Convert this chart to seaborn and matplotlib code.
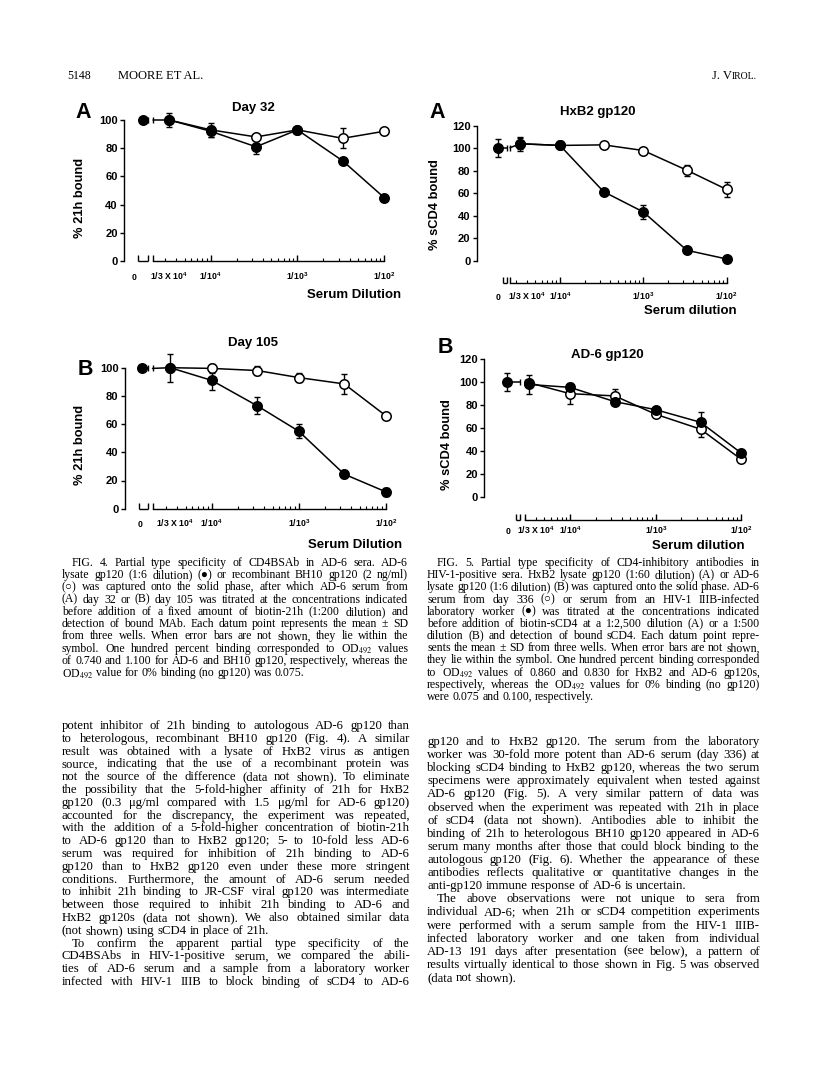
import numpy as np
import pandas as pd
import matplotlib
matplotlib.use("Agg")
import matplotlib.pyplot as plt
import matplotlib.ticker as mticker
import matplotlib.transforms as mtransforms
import seaborn as sns

W, H = 816, 1076
nan = np.nan

# serum dilutions (0 = no serum), shared by all four panels
dilutions = [0, 1 / 30000, 1 / 10000, 1 / 3000, 1 / 1000, 1 / 300, 1 / 100]
x_ticks = [1 / 30000, 1e-4, 1e-3, 1e-2]
x_ticklabels = [r"1/3 X 10$^{4}$", r"1/10$^{4}$", r"1/10$^{3}$", r"1/10$^{2}$"]
yticks_21h = [0, 20, 40, 60, 80, 100]
yticks_scd4 = [0, 20, 40, 60, 80, 100, 120]

# Fig. 4A, day 32: AD-6 lysate gp120 (filled) and BH10 gp120 (open)
day32_lysate = [100, 100, 92, 81, 93, 71, 45]
day32_lysate_sd = [0, 5, 4, 5, 0, 2, 1]
day32_bh10 = [nan, 100, 93, 88, 93, 87, 92]
day32_bh10_sd = [0, 0, 5, 0, 0, 7, 0]

# Fig. 4B, day 105
day105_lysate = [99.5, 100, 91, 73, 55, 24.5, 12]
day105_lysate_sd = [0, 10, 7, 6, 5, 3, 3]
day105_bh10 = [nan, 100, 99.5, 98, 93, 88.5, 66]
day105_bh10_sd = [0, 0, 3, 3, 3, 7, 2]

# Fig. 5A, HxB2 gp120: lab worker (filled) and AD-6 day 336 (open)
hxb2_worker = [100.5, 104, 102.5, 61.5, 43.5, 9.5, 1.8]
hxb2_worker_sd = [8, 5, 1, 1, 6, 1, 0]
hxb2_ad6 = [nan, 104, 102.5, 103, 98, 80.5, 63.5]
hxb2_ad6_sd = [0, 6, 0, 0, 0, 5, 7]

# Fig. 5B, AD-6 gp120
ad6_worker = [100, 98, 95.5, 83, 76, 65, 38]
ad6_worker_sd = [8, 8, 2, 0, 1, 9, 2]
ad6_ad6 = [nan, 99.5, 90, 88, 72, 59, 32.5]
ad6_ad6_sd = [0, 3, 9, 6, 0, 7, 0]

fig4_caption = [
    "FIG. 4. Partial type specificity of CD4BSAb in AD-6 sera. AD-6",
    "lysate gp120 (1:6 dilution) (\u25cf) or recombinant BH10 gp120 (2 ng/ml)",
    "(\u25cb) was captured onto the solid phase, after which AD-6 serum from",
    "(A) day 32 or (B) day 105 was titrated at the concentrations indicated",
    "before addition of a fixed amount of biotin-21h (1:200 dilution) and",
    "detection of bound MAb. Each datum point represents the mean \u00b1 SD",
    "from three wells. When error bars are not shown, they lie within the",
    "symbol. One hundred percent binding corresponded to OD$_{492}$ values",
    "of 0.740 and 1.100 for AD-6 and BH10 gp120, respectively, whereas the",
    "OD$_{492}$ value for 0% binding (no gp120) was 0.075.",
]
fig5_caption = [
    "FIG. 5. Partial type specificity of CD4-inhibitory antibodies in",
    "HIV-1-positive sera. HxB2 lysate gp120 (1:60 dilution) (A) or AD-6",
    "lysate gp120 (1:6 dilution) (B) was captured onto the solid phase. AD-6",
    "serum from day 336 (\u25cb) or serum from an HIV-1 IIIB-infected",
    "laboratory worker (\u25cf) was titrated at the concentrations indicated",
    "before addition of biotin-sCD4 at a 1:2,500 dilution (A) or a 1:500",
    "dilution (B) and detection of bound sCD4. Each datum point repre-",
    "sents the mean \u00b1 SD from three wells. When error bars are not shown,",
    "they lie within the symbol. One hundred percent binding corresponded",
    "to OD$_{492}$ values of 0.860 and 0.830 for HxB2 and AD-6 gp120s,",
    "respectively, whereas the OD$_{492}$ values for 0% binding (no gp120)",
    "were 0.075 and 0.100, respectively.",
]
body_left = [
    "potent inhibitor of 21h binding to autologous AD-6 gp120 than",
    "to heterologous, recombinant BH10 gp120 (Fig. 4). A similar",
    "result was obtained with a lysate of HxB2 virus as antigen",
    "source, indicating that the use of a recombinant protein was",
    "not the source of the difference (data not shown). To eliminate",
    "the possibility that the 5-fold-higher affinity of 21h for HxB2",
    "gp120 (0.3 \u03bcg/ml compared with 1.5 \u03bcg/ml for AD-6 gp120)",
    "accounted for the discrepancy, the experiment was repeated,",
    "with the addition of a 5-fold-higher concentration of biotin-21h",
    "to AD-6 gp120 than to HxB2 gp120; 5- to 10-fold less AD-6",
    "serum was required for inhibition of 21h binding to AD-6",
    "gp120 than to HxB2 gp120 even under these more stringent",
    "conditions. Furthermore, the amount of AD-6 serum needed",
    "to inhibit 21h binding to JR-CSF viral gp120 was intermediate",
    "between those required to inhibit 21h binding to AD-6 and",
    "HxB2 gp120s (data not shown). We also obtained similar data",
    "(not shown) using sCD4 in place of 21h.",
    "To confirm the apparent partial type specificity of the",
    "CD4BSAbs in HIV-1-positive serum, we compared the abili-",
    "ties of AD-6 serum and a sample from a laboratory worker",
    "infected with HIV-1 IIIB to block binding of sCD4 to AD-6",
]
body_right = [
    "gp120 and to HxB2 gp120. The serum from the laboratory",
    "worker was 30-fold more potent than AD-6 serum (day 336) at",
    "blocking sCD4 binding to HxB2 gp120, whereas the two serum",
    "specimens were approximately equivalent when tested against",
    "AD-6 gp120 (Fig. 5). A very similar pattern of data was",
    "observed when the experiment was repeated with 21h in place",
    "of sCD4 (data not shown). Antibodies able to inhibit the",
    "binding of 21h to heterologous BH10 gp120 appeared in AD-6",
    "serum many months after those that could block binding to the",
    "autologous gp120 (Fig. 6). Whether the appearance of these",
    "antibodies reflects qualitative or quantitative changes in the",
    "anti-gp120 immune response of AD-6 is uncertain.",
    "The above observations were not unique to sera from",
    "individual AD-6; when 21h or sCD4 competition experiments",
    "were performed with a serum sample from the HIV-1 IIIB-",
    "infected laboratory worker and one taken from individual",
    "AD-13 191 days after presentation (see below), a pattern of",
    "results virtually identical to those shown in Fig. 5 was observed",
    "(data not shown).",
]

SANS = ["Liberation Sans", "DejaVu Sans"]
SERIF = ["Liberation Serif", "DejaVu Serif"]

sns.set_style("ticks")
plt.rcParams.update({
    "font.family": SANS,
    "mathtext.fontset": "custom",
    "mathtext.rm": "Liberation Sans:bold",
    "mathtext.bf": "Liberation Sans:bold",
    "mathtext.it": "Liberation Sans:bold:italic",
    "axes.edgecolor": "black",
    "axes.labelcolor": "black",
    "text.color": "black",
    "xtick.color": "black",
    "ytick.color": "black",
    "axes.linewidth": 1.0,
})


def fxy(x, y):
    return x / W, 1 - y / H


panels = [
    dict(letter="A", title="Day 32", ylabel="% 21h bound", xlabel="Serum Dilution",
         filled=(day32_lysate, day32_lysate_sd), open=(day32_bh10, day32_bh10_sd),
         yticks=yticks_21h,
         lay=dict(xref=210.7, dec=86.7, yhi=(100, 120.0), ylo=(0, 261.0), ylim=(-8, 112),
                  axis_y=0, zero=-4.785, start=-4.835, b1=-4.727, b2=-4.66, zlab=-4.88,
                  lab=16, shift=0, title=(253, 108), letter=(83, 113), ylab=(80, 198),
                  xlab=(401, 295))),
    dict(letter="B", title="Day 105", ylabel="% 21h bound", xlabel="Serum Dilution",
         filled=(day105_lysate, day105_lysate_sd), open=(day105_bh10, day105_bh10_sd),
         yticks=yticks_21h,
         lay=dict(xref=211.7, dec=87.0, yhi=(100, 367.7), ylo=(0, 508.7), ylim=(-8, 112),
                  axis_y=0, zero=-4.80, start=-4.83, b1=-4.73, b2=-4.68, zlab=-4.82,
                  lab=15, shift=5, title=(253, 343), letter=(85, 370), ylab=(80, 445),
                  xlab=(402, 545))),
    dict(letter="A", title="HxB2 gp120", ylabel="% sCD4 bound", xlabel="Serum dilution",
         filled=(hxb2_worker, hxb2_worker_sd), open=(hxb2_ad6, hxb2_ad6_sd),
         yticks=yticks_scd4,
         lay=dict(xref=560.0, dec=83.3, yhi=(120, 125.7), ylo=(0, 261.0), ylim=(-26, 128),
                  axis_y=-19.5, zero=-4.75, start=-4.69, b1=-4.64, b2=-4.60, zlab=-4.74,
                  lab=14, shift=7, title=(598, 112), letter=(437, 113), ylab=(435, 205),
                  xlab=(737, 311))),
    dict(letter="B", title="AD-6 gp120", ylabel="% sCD4 bound", xlabel="Serum dilution",
         filled=(ad6_worker, ad6_worker_sd), open=(ad6_ad6, ad6_ad6_sd),
         yticks=yticks_scd4,
         lay=dict(xref=570.0, dec=85.7, yhi=(120, 359.3), ylo=(0, 496.7), ylim=(-26, 128),
                  axis_y=-20.3, zero=-4.73, start=-4.63, b1=-4.58, b2=-4.525, zlab=-4.72,
                  lab=11, shift=7, title=(607, 355), letter=(445, 347), ylab=(447, 445),
                  xlab=(745, 546))),
]


def draw_panel(fig, p):
    L = p["lay"]
    (va, pa), (vb, pb) = L["yhi"], L["ylo"]

    def px_x(lg):
        return L["xref"] + (lg + 4) * L["dec"]

    def px_y(v):
        return pa + (v - va) * (pb - pa) / (vb - va)

    x_lo, x_hi = -5.0, -1.9
    y_lo, y_hi = L["ylim"]
    left, right = px_x(x_lo), px_x(x_hi)
    top, bottom = px_y(y_hi), px_y(y_lo)
    ax = fig.add_axes([left / W, 1 - bottom / H, (right - left) / W, (bottom - top) / H])
    ax.set_xscale("log")
    ax.set_xlim(10 ** x_lo, 10 ** x_hi)
    ax.set_ylim(y_lo, y_hi)
    ax.patch.set_alpha(0)
    ax.spines["top"].set_visible(False)
    ax.spines["right"].set_visible(False)
    ax.spines["left"].set_bounds(0, p["yticks"][-1])
    ax.spines["bottom"].set_position(("data", L["axis_y"]))
    ax.spines["bottom"].set_bounds(10 ** L["b2"], 1e-2)

    ax.set_yticks(p["yticks"])
    ax.set_yticklabels([str(t) for t in p["yticks"]], fontweight="bold")
    ax.tick_params(axis="y", direction="out", length=3, width=1, pad=1.5, labelsize=8)

    ax.xaxis.set_major_locator(mticker.FixedLocator([10 ** L["zlab"]] + x_ticks))
    ax.xaxis.set_major_formatter(mticker.FixedFormatter(["0"] + x_ticklabels))
    minor = [m * 10.0 ** e for e in (-5, -4, -3) for m in range(2, 10)
             if 10 ** L["b2"] < m * 10.0 ** e < 1e-2]
    ax.xaxis.set_minor_locator(mticker.FixedLocator(minor))
    ax.xaxis.set_minor_formatter(mticker.NullFormatter())
    ax.tick_params(axis="x", which="major", direction="in", length=4.5, width=1,
                   pad=(L["lab"] + 3) * 0.72, labelsize=6.3)
    ax.tick_params(axis="x", which="minor", direction="in", length=2.3, width=0.8)
    for i, t in enumerate(ax.xaxis.get_major_ticks()):
        t.label1.set_va("baseline")
        t.label1.set_fontweight("bold")
        if i < 2:
            t.tick1line.set_visible(False)
        if i == 1:
            nudge = mtransforms.ScaledTranslation(L["shift"] / 100, 0, fig.dpi_scale_trans)
            t.label1.set_transform(t.label1.get_transform() + nudge)

    # axis segment for the zero dose, with break marks
    ay = L["axis_y"]
    ax.plot([10 ** L["start"], 10 ** L["b1"]], [ay, ay], color="k", lw=1, clip_on=False,
            solid_capstyle="butt")
    ax.plot([10 ** L["start"], 10 ** L["b1"], 10 ** L["b2"]], [ay] * 3, ls="none",
            marker=2, ms=4.5, mew=1, color="k", clip_on=False)

    xs = np.array(dilutions)
    for key, face, z in (("open", "white", 3), ("filled", "black", 4)):
        vals = np.array(p[key][0], float)
        sd = np.array(p[key][1], float)
        keep = (xs > 0) & ~np.isnan(vals)
        err = keep & (sd > 0)
        ax.errorbar(xs[err], vals[err], yerr=sd[err], fmt="none", ecolor="k",
                    elinewidth=1, capsize=2.2, capthick=1, zorder=2, clip_on=False)
        df = pd.DataFrame({"dilution": xs[keep], "pct": vals[keep]})
        sns.lineplot(data=df, x="dilution", y="pct", ax=ax, color="k", lw=1.1,
                     marker="o", ms=6.8, mfc=face, mec="k", mew=1.1,
                     estimator=None, sort=False, zorder=z, clip_on=False)
        if not np.isnan(vals[0]):
            x0 = 10 ** L["zero"]
            y0 = vals[0]
            if sd[0] > 0:
                ax.errorbar([x0], [y0], yerr=[sd[0]], fmt="none", ecolor="k",
                            elinewidth=1, capsize=2.2, capthick=1, zorder=2)
            ax.plot([x0, 10 ** L["b1"]], [y0, y0], color="k", lw=1.1, zorder=2)
            ax.plot([10 ** L["b2"], xs[1]], [y0, vals[1]], color="k", lw=1.1, zorder=2)
            ax.plot([10 ** L["b1"], 10 ** L["b2"]], [y0, y0], ls="none", marker="|",
                    ms=5, mew=1, color="k", zorder=2)
            ax.plot([x0], [y0], ls="none", marker="o", ms=6.8, mfc=face, mec="k",
                    mew=1.1, zorder=z)

    ax.set_xlabel(p["xlabel"], fontsize=9.5, fontweight="bold")
    ax.xaxis.label.set_ha("right")
    ax.xaxis.label.set_va("center")
    ax.xaxis.set_label_coords(*fxy(*L["xlab"]), transform=fig.transFigure)
    ax.set_ylabel(p["ylabel"], fontsize=9.3, fontweight="bold")
    ax.yaxis.label.set_va("center")
    ax.yaxis.set_label_coords(*fxy(*L["ylab"]), transform=fig.transFigure)
    fig.text(*fxy(*L["title"]), p["title"], fontsize=9.5, fontweight="bold",
             ha="center", va="center")
    fig.text(*fxy(*L["letter"]), p["letter"], fontsize=15.5, fontweight="bold",
             ha="center", va="center")
    return ax


def text_block(fig, r, lines, x0, x1, y_first, y_last, size, last_lines=(), indents=()):
    step = (y_last - y_first) / (len(lines) - 1)
    for i, line in enumerate(lines):
        y = y_first + i * step + 3
        words = line.split(" ")
        objs = [fig.text(0, 0, w, fontsize=size, family=SERIF, math_fontfamily="stix",
                         ha="left", va="baseline") for w in words]
        widths = [o.get_window_extent(renderer=r).width for o in objs]
        start = x0 + (10 if i in indents else 0)
        avail = x1 - start
        min_gap = size * 100 / 72 * 0.2
        natural = sum(widths) + min_gap * (len(words) - 1)
        if natural > avail:
            s = size * avail / natural
            for o in objs:
                o.set_fontsize(s)
            widths = [o.get_window_extent(renderer=r).width for o in objs]
        if i in last_lines or len(words) == 1:
            gap = size * 100 / 72 * 0.25
        else:
            gap = (avail - sum(widths)) / (len(words) - 1)
        x = start
        for o, wd in zip(objs, widths):
            o.set_position(fxy(x, y))
            x += wd + gap


fig = plt.figure(figsize=(W / 100, H / 100), dpi=100)
fig.patch.set_facecolor("white")
renderer = fig.canvas.get_renderer()

for p in panels:
    draw_panel(fig, p)

# running head
fig.text(*fxy(67, 79), "5148", fontsize=8.5, family=SERIF, va="baseline")
fig.text(*fxy(118, 79), "MOORE ET AL.", fontsize=9, family=SERIF, va="baseline")
jv = fig.text(*fxy(712, 79), "J. V", fontsize=9, family=SERIF, va="baseline")
jw = jv.get_window_extent(renderer=renderer).width
fig.text(*fxy(712 + jw, 79), "IROL.", fontsize=7, family=SERIF, va="baseline")

cap_size = 8.5
body_size = 9.2

text_block(fig, renderer, fig4_caption, 62, 408, 563, 673, cap_size,
           last_lines=(9,), indents=(0,))
text_block(fig, renderer, fig5_caption, 427, 760, 563, 697, cap_size,
           last_lines=(11,), indents=(0,))
text_block(fig, renderer, body_left, 62, 410, 726, 982, body_size,
           last_lines=(16,), indents=(17,))
text_block(fig, renderer, body_right, 427, 760, 742, 978, body_size,
           last_lines=(11, 18), indents=(12,))

fig.savefig("out.png", dpi=100, facecolor="white")
